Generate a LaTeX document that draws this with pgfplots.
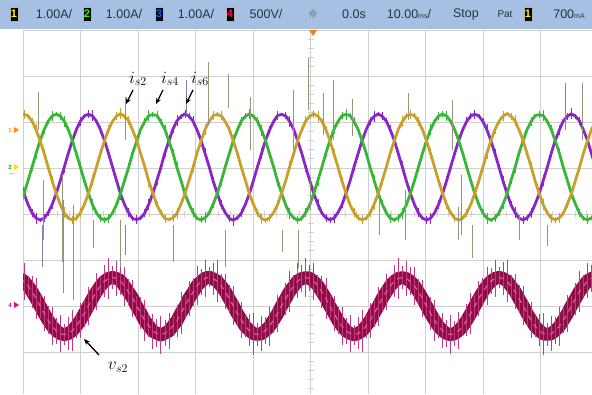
\documentclass[border=0pt]{standalone}
\usepackage{pgfplots}
\pgfplotsset{compat=1.18}
\usepackage{pgfplotstable}
\usepackage{fontspec}
\newfontfamily\hdr{Liberation Sans}
\newfontfamily\sym{DejaVu Sans}
\usetikzlibrary{arrows.meta}
\definecolor{hdrbg}{HTML}{A6C0E4}
\definecolor{hdrtx}{HTML}{27304A}
\definecolor{cyel}{HTML}{C9A02C}
\definecolor{cgrn}{HTML}{38B638}
\definecolor{cpur}{HTML}{8A26C6}
\definecolor{cvd}{HTML}{8E0C48}
\definecolor{cvp}{HTML}{C23A7C}
\definecolor{cspk}{HTML}{96967A}
\definecolor{cspp}{HTML}{8E7AAA}
\definecolor{gridc}{HTML}{CFCFCF}
\pgfplotstableread{
x ya yb yc yv e ev
-1 2.131 0.207 0.722 -1.401 0.06 0.28
0 2.170 0.445 0.445 -1.463 0.10 0.40
1 2.131 0.722 0.207 -1.562 0.04 0.22
2 2.016 1.020 0.024 -1.690 0.08 0.35
3 1.833 1.318 -0.091 -1.839 0.12 0.45
4 1.595 1.595 -0.130 -2.000 0.05 0.25
5 1.318 1.833 -0.091 -2.161 0.09 0.38
6 1.020 2.016 0.024 -2.310 0.06 0.30
7 0.722 2.131 0.207 -2.438 0.10 0.42
8 0.445 2.170 0.445 -2.537 0.04 0.28
9 0.207 2.131 0.722 -2.599 0.08 0.40
10 0.024 2.016 1.020 -2.620 0.12 0.22
11 -0.091 1.833 1.318 -2.599 0.05 0.35
12 -0.130 1.595 1.595 -2.537 0.09 0.45
13 -0.091 1.318 1.833 -2.438 0.06 0.25
14 0.024 1.020 2.016 -2.310 0.10 0.38
15 0.207 0.722 2.131 -2.161 0.04 0.30
16 0.445 0.445 2.170 -2.000 0.08 0.42
17 0.722 0.207 2.131 -1.839 0.12 0.28
18 1.020 0.024 2.016 -1.690 0.05 0.40
19 1.318 -0.091 1.833 -1.562 0.09 0.22
20 1.595 -0.130 1.595 -1.463 0.06 0.35
21 1.833 -0.091 1.318 -1.401 0.10 0.45
22 2.016 0.024 1.020 -1.380 0.04 0.25
23 2.131 0.207 0.722 -1.401 0.08 0.38
24 2.180 0.450 0.430 -1.450 0.12 0.30
25 2.120 0.735 0.200 -1.570 0.05 0.42
26 2.030 1.010 0.030 -1.700 0.09 0.28
27 1.820 1.330 -0.100 -1.830 0.06 0.40
28 1.600 1.580 -0.120 -2.010 0.10 0.22
29 1.305 1.845 -0.085 -2.150 0.04 0.35
30 1.030 2.010 0.020 -2.320 0.08 0.45
31 0.710 2.140 0.215 -2.430 0.12 0.25
32 0.455 2.160 0.440 -2.550 0.05 0.38
33 0.200 2.145 0.730 -2.590 0.09 0.30
34 0.030 2.005 1.010 -2.630 0.06 0.42
35 -0.100 1.840 1.330 -2.590 0.10 0.28
36 -0.120 1.585 1.590 -2.545 0.04 0.40
37 -0.085 1.325 1.845 -2.430 0.08 0.22
38 0.015 1.010 2.025 -2.320 0.12 0.35
39 0.215 0.730 2.120 -2.150 0.05 0.45
40 0.440 0.435 2.180 -2.010 0.09 0.25
41 0.730 0.215 2.125 -1.830 0.06 0.38
42 1.010 0.030 2.020 -1.700 0.10 0.30
43 1.330 -0.100 1.825 -1.555 0.04 0.42
44 1.585 -0.125 1.600 -1.470 0.08 0.28
45 1.845 -0.085 1.310 -1.395 0.12 0.40
46 2.010 0.020 1.030 -1.375 0.05 0.22
47 2.140 0.215 0.715 -1.410 0.09 0.35
48 2.165 0.440 0.450 -1.460 0.06 0.45
49 2.135 0.715 0.200 -1.565 0.10 0.25
50 2.010 1.025 0.030 -1.685 0.04 0.38
51 1.840 1.310 -0.095 -1.845 0.08 0.30
52 1.590 1.600 -0.135 -1.995 0.12 0.42
53 1.325 1.825 -0.085 -2.165 0.05 0.28
54 1.015 2.025 0.020 -2.305 0.09 0.40
55 0.730 2.125 0.210 -2.445 0.06 0.22
56 0.440 2.175 0.440 -2.530 0.10 0.35
57 0.210 2.125 0.725 -2.605 0.04 0.45
58 0.020 2.020 1.025 -2.615 0.08 0.25
59 -0.095 1.825 1.310 -2.605 0.12 0.38
60 -0.135 1.600 1.600 -2.530 0.05 0.30
61 -0.085 1.310 1.825 -2.445 0.09 0.42
62 0.030 1.025 2.010 -2.305 0.06 0.28
63 0.200 0.715 2.140 -2.165 0.10 0.40
64 0.450 0.450 2.165 -1.995 0.04 0.22
65 0.715 0.200 2.135 -1.845 0.08 0.35
66 1.025 0.020 2.010 -1.685 0.12 0.45
67 1.310 -0.085 1.840 -1.570 0.05 0.25
68 1.600 -0.135 1.590 -1.455 0.09 0.38
69 1.825 -0.095 1.325 -1.405 0.06 0.30
70 2.025 0.030 1.015 -1.385 0.10 0.42
71 2.125 0.200 0.730 -1.395 0.04 0.28
72 2.175 0.450 0.440 -1.470 0.08 0.40
73 2.125 0.725 0.215 -1.555 0.12 0.22
74 2.020 1.015 0.020 -1.695 0.05 0.35
75 1.830 1.325 -0.085 -1.835 0.09 0.45
76 1.600 1.590 -0.125 -2.005 0.06 0.25
77 1.310 1.840 -0.095 -2.155 0.10 0.38
78 1.025 2.010 0.030 -2.315 0.04 0.30
79 0.715 2.135 0.200 -2.435 0.08 0.42
80 0.450 2.165 0.450 -2.540 0.12 0.28
81 0.200 2.140 0.715 -2.595 0.05 0.40
82 0.030 2.010 1.025 -2.625 0.09 0.22
83 -0.085 1.840 1.310 -2.595 0.06 0.35
84 -0.125 1.590 1.600 -2.540 0.10 0.45
85 -0.095 1.325 1.830 -2.435 0.04 0.25
86 0.020 1.015 2.020 -2.315 0.08 0.38
87 0.215 0.725 2.125 -2.155 0.12 0.30
88 0.440 0.440 2.175 -2.005 0.05 0.42
89 0.725 0.215 2.125 -1.835 0.09 0.28
90 1.015 0.030 2.020 -1.695 0.06 0.40
91 1.325 -0.095 1.830 -1.560 0.10 0.22
92 1.590 -0.125 1.600 -1.465 0.04 0.35
93 1.840 -0.085 1.310 -1.400 0.08 0.45
94 2.010 0.020 1.025 -1.385 0.12 0.25
95 2.135 0.200 0.715 -1.405 0.05 0.38
96 2.160 0.445 0.445 -1.463 0.09 0.30
97 2.140 0.722 0.207 -1.562 0.06 0.42
98 2.016 1.020 0.024 -1.690 0.10 0.28
99 1.833 1.318 -0.091 -1.839 0.04 0.40
100 1.595 1.595 -0.130 -2.000 0.08 0.22
101 1.318 1.833 -0.091 -2.161 0.12 0.35
102 1.020 2.016 0.024 -2.310 0.05 0.45
103 0.722 2.131 0.207 -2.438 0.09 0.25
104 0.445 2.170 0.445 -2.537 0.06 0.38
105 0.207 2.131 0.722 -2.599 0.10 0.30
106 0.024 2.016 1.020 -2.620 0.04 0.42
107 -0.091 1.833 1.318 -2.599 0.08 0.28
108 -0.130 1.595 1.595 -2.537 0.12 0.40
109 -0.091 1.318 1.833 -2.438 0.05 0.22
110 0.024 1.020 2.016 -2.310 0.09 0.35
111 0.207 0.722 2.131 -2.161 0.06 0.45
112 0.445 0.445 2.170 -2.000 0.10 0.25
113 0.722 0.207 2.131 -1.839 0.04 0.38
114 1.020 0.024 2.016 -1.690 0.08 0.30
115 1.318 -0.091 1.833 -1.562 0.12 0.42
116 1.595 -0.130 1.595 -1.463 0.05 0.28
117 1.833 -0.091 1.318 -1.401 0.09 0.40
118 2.016 0.024 1.020 -1.380 0.06 0.22
119 2.131 0.207 0.722 -1.401 0.10 0.35
120 2.180 0.440 0.450 -1.455 0.04 0.45
121 2.125 0.730 0.200 -1.570 0.08 0.25
122 2.025 1.010 0.030 -1.685 0.12 0.38
123 1.825 1.325 -0.095 -1.845 0.05 0.30
124 1.600 1.590 -0.125 -1.995 0.09 0.42
125 1.310 1.840 -0.085 -2.165 0.06 0.28
126 1.030 2.010 0.020 -2.305 0.10 0.40
127 0.715 2.140 0.215 -2.445 0.04 0.22
128 0.450 2.160 0.440 -2.530 0.08 0.35
129 0.200 2.140 0.730 -2.605 0.12 0.45
130 0.030 2.010 1.010 -2.615 0.05 0.25
131 -0.095 1.840 1.325 -2.605 0.09 0.38
132 -0.125 1.590 1.600 -2.530 0.06 0.30
133 -0.085 1.325 1.825 -2.445 0.10 0.42
134 0.020 1.010 2.025 -2.305 0.04 0.28
135 0.215 0.730 2.125 -2.165 0.08 0.40
136 0.440 0.440 2.180 -1.995 0.12 0.22
137 0.730 0.215 2.125 -1.845 0.05 0.35
138 1.010 0.020 2.025 -1.685 0.09 0.45
139 1.325 -0.095 1.825 -1.570 0.06 0.25
140 1.590 -0.125 1.600 -1.455 0.10 0.38
141 1.840 -0.085 1.310 -1.400 0.04 0.30
142 2.010 0.020 1.030 -1.380 0.08 0.42
}\data
\begin{document}
\begin{tikzpicture}
\useasboundingbox (0pt,0pt) rectangle (592pt,394pt);
\fill[white] (0pt,0pt) rectangle (592pt,394pt);
% centre-cross minor ticks
\foreach \k in {1,...,39} \draw[gridc, line width=0.7pt] (307.5pt,{364pt-9.2pt*\k}) -- (313.5pt,{364pt-9.2pt*\k});
\foreach \k in {1,...,49} \draw[gridc, line width=0.7pt] ({23pt+11.5pt*\k},177pt) -- ({23pt+11.5pt*\k},183pt);
\begin{axis}[at={(23pt,0pt)}, anchor=south west, scale only axis,
  width=569pt, height=364pt,
  xmin=-0.248, xmax=141.12, ymin=-3.913, ymax=4,
  xtick={-0.248,14.038,28.324,42.609,56.895,71.181,85.466,99.752,114.038,128.323},
  ytick={-3,-2,-1,0,1,2,3,4},
  xticklabels={}, yticklabels={},
  grid=major, grid style={gridc, line width=0.8pt},
  axis line style={draw=none}, major tick length=0pt,
  clip=true, unbounded coords=jump]
% voltage v_s2
\addplot[cvd, line width=13pt, line join=round, mark=none,
  error bars/.cd, y dir=both, y explicit, error mark=none,
  error bar style={draw=cvp, line width=0.7pt}]
  table[x=x, y=yv, y error=ev] {\data};
\addplot[color=cvp!70!pink, line width=1.2pt, mark=none, dash pattern=on 5pt off 5pt]
  table[x=x, y=yv] {\data};
% phase currents
\addplot[cpur, line width=2.8pt, line join=round, mark=none,
  error bars/.cd, y dir=both, y explicit, error mark=none,
  error bar style={line width=0.6pt}]
  table[x=x, y=yc, y error=e] {\data};
\addplot[cgrn, line width=2.8pt, line join=round, mark=none,
  error bars/.cd, y dir=both, y explicit, error mark=none,
  error bar style={line width=0.6pt}]
  table[x=x, y=yb, y error=e] {\data};
\addplot[cyel, line width=2.8pt, line join=round, mark=none,
  error bars/.cd, y dir=both, y explicit, error mark=none,
  error bar style={line width=0.6pt}]
  table[x=x, y=ya, y error=e] {\data};
% noise spikes
\addplot[cspk, line width=0.8pt, mark=none] coordinates {
(3.48,2.65) (3.48,1.83) (3.48,nan)
(4.72,0.74) (4.72,-0.57) (4.72,nan)
(9.44,0.85) (9.44,-1.04) (9.44,nan)
(9.69,0.30) (9.69,-1.72) (9.69,nan)
(12.17,0.20) (12.17,-1.87) (12.17,nan)
(17.14,-0.13) (17.14,-0.74) (17.14,nan)
(23.85,-0.13) (23.85,-1.15) (23.85,nan)
(25.09,2.54) (25.09,1.61) (25.09,nan)
(37.02,-0.24) (37.02,-1.04) (37.02,nan)
(45.71,3.30) (45.71,1.93) (45.71,nan)
(49.94,-0.35) (49.94,-1.15) (49.94,nan)
(50.68,3.04) (50.68,2.30) (50.68,nan)
(56.15,2.54) (56.15,1.39) (56.15,nan)
(64.10,-0.35) (64.10,-0.83) (64.10,nan)
(66.83,2.70) (66.83,1.39) (66.83,nan)
(68.07,-0.35) (68.07,-1.17) (68.07,nan)
(70.56,3.39) (70.56,2.26) (70.56,nan)
(71.06,0.74) (71.06,0.09) (71.06,nan)
(74.29,2.63) (74.29,1.72) (74.29,nan)
(76.77,2.91) (76.77,1.61) (76.77,nan)
(81.49,2.50) (81.49,1.70) (81.49,nan)
(88.40,0.30) (88.40,-0.46) (88.40,nan)
(94.66,0.52) (94.66,-0.57) (94.66,nan)
(95.40,2.63) (95.40,2.04) (95.40,nan)
(106.34,2.48) (106.34,1.39) (106.34,nan)
(107.83,0.15) (107.83,-0.57) (107.83,nan)
(108.57,0.85) (108.57,-0.46) (108.57,nan)
(111.30,-0.24) (111.30,-0.96) (111.30,nan)
(123.20,-0.02) (123.20,-0.57) (123.20,nan)
(129.94,-0.24) (129.94,-0.70) (129.94,nan)
(138.63,2.85) (138.63,1.61)
};
\addplot[cspp, line width=0.8pt, mark=none] coordinates {
(4.47,-0.24) (4.47,-1.15) (4.47,nan)
(25.09,-0.24) (25.09,-0.89) (25.09,nan)
(40.25,2.91) (40.25,2.15) (40.25,nan)
(134.41,2.85) (134.41,1.83)
};
\end{axis}
% header bar
\fill[hdrbg] (0pt,365pt) rectangle (592pt,394pt);
\tikzset{hbox/.style={fill=black, draw=gray!60, line width=0.4pt, inner sep=0pt, minimum width=8pt, minimum height=14pt, font=\hdr\bfseries\fontsize{11}{11}\selectfont},
  htx/.style={text=hdrtx, inner sep=0pt, font=\hdr\fontsize{12.5}{12.5}\selectfont}}
\node[hbox, text=yellow] at (14pt,380pt) {1};
\node[htx] at (54pt,380pt) {1.00A/};
\node[hbox, text=green!80!lime] at (87pt,380pt) {2};
\node[htx] at (124pt,380pt) {1.00A/};
\node[hbox, text=blue!60!cyan] at (159pt,380pt) {3};
\node[htx] at (196pt,380pt) {1.00A/};
\node[hbox, text=red!60!magenta] at (230pt,380pt) {4};
\node[htx] at (266pt,380pt) {500V/};
\node[text=gray!70!black, inner sep=0pt, font=\sym\fontsize{12}{12}\selectfont] at (313pt,380pt) {☼};
\node[htx] at (354pt,380pt) {0.0s};
\node[htx] at (409pt,380pt) {10.00{\fontsize{7}{7}\selectfont ms}/};
\node[htx] at (466pt,380pt) {Stop};
\node[htx, font=\hdr\fontsize{10}{10}\selectfont] at (505pt,380pt) {Pat};
\node[hbox, text=yellow] at (528pt,380pt) {1};
\node[htx] at (569pt,380pt) {700{\fontsize{7}{7}\selectfont mA}};
% trigger marker
\fill[orange] (309pt,364pt) -- (317pt,364pt) -- (313pt,358pt) -- cycle;
% channel ground markers
\node[text=orange!90!yellow, inner sep=0pt, font=\hdr\bfseries\fontsize{6}{6}\selectfont] at (10pt,264pt) {1};
\fill[orange!90!yellow] (14pt,261pt) -- (19pt,264pt) -- (14pt,267pt) -- cycle;
\node[text=green!70!black, inner sep=0pt, font=\hdr\bfseries\fontsize{6}{6}\selectfont] at (10pt,227pt) {2};
\fill[yellow!80!orange] (14pt,224pt) -- (19pt,227pt) -- (14pt,230pt) -- cycle;
\draw[yellow!80!orange, line width=0.8pt] (9pt,221pt) -- (14pt,221pt);
\node[text=magenta, inner sep=0pt, font=\hdr\bfseries\fontsize{6}{6}\selectfont] at (10pt,89pt) {4};
\fill[magenta] (14pt,86pt) -- (19pt,89pt) -- (14pt,92pt) -- cycle;
% labels
\tikzset{lab/.style={inner sep=0pt, font=\fontsize{17}{17}\selectfont}}
\node[lab] at (138pt,315pt) {$i_{s2}$};
\node[lab] at (170pt,315pt) {$i_{s4}$};
\node[lab] at (200pt,315pt) {$i_{s6}$};
\draw[-{Stealth[length=6pt,width=5pt]}, line width=1.3pt] (133pt,304pt) -- (126pt,290pt);
\draw[-{Stealth[length=6pt,width=5pt]}, line width=1.3pt] (163pt,304pt) -- (156pt,290pt);
\draw[-{Stealth[length=6pt,width=5pt]}, line width=1.3pt] (193pt,304pt) -- (186pt,290pt);
\node[lab] at (118pt,27pt) {$v_{s2}$};
\draw[-{Stealth[length=6pt,width=5pt]}, line width=1.3pt] (99pt,39pt) -- (84pt,55pt);
\end{tikzpicture}
\end{document}
